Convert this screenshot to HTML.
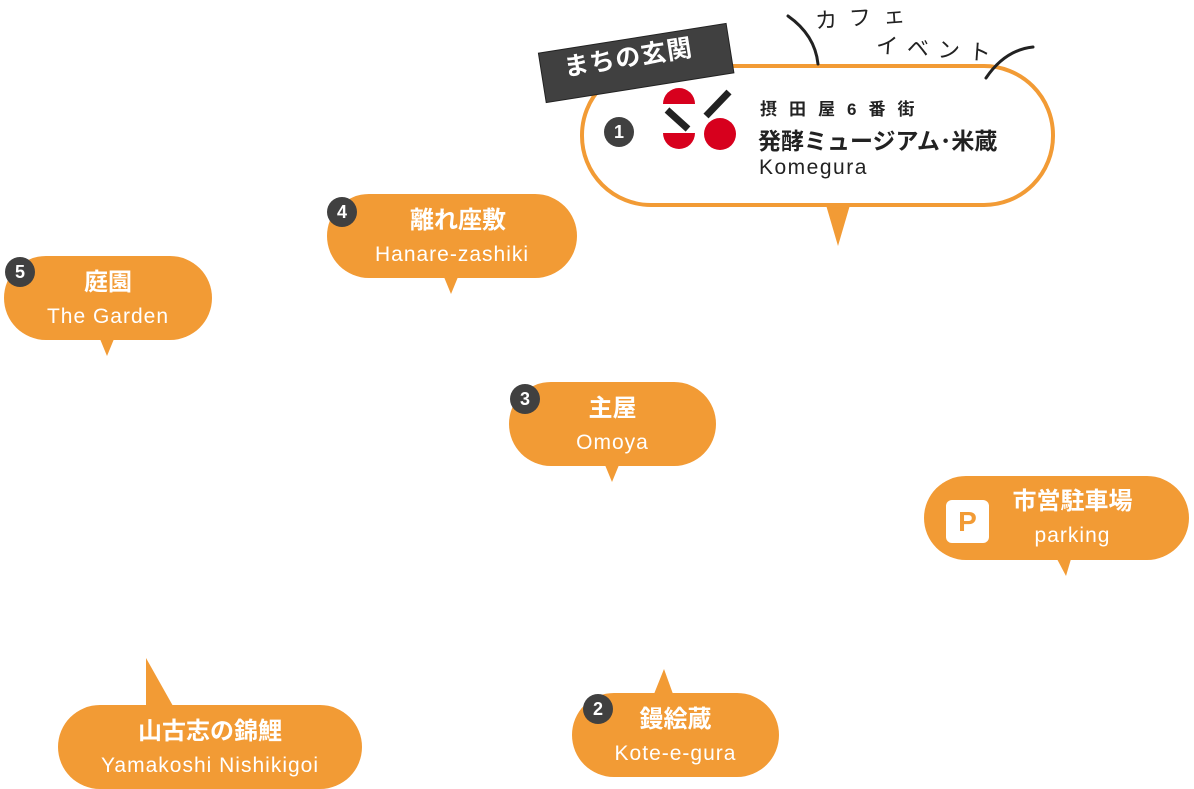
<!DOCTYPE html>
<html><head><meta charset="utf-8"><style>
body{margin:0;width:1194px;height:786px;background:#fff;position:relative;overflow:hidden;font-family:"Liberation Sans","Noto Sans CJK JP",sans-serif}
.b{position:absolute;background:#f29b35;border-radius:42px;color:#fff;text-align:center}
.b .j{font-weight:bold;font-size:24px;line-height:28px;letter-spacing:0px}
.b .e{font-size:21px;line-height:24px;letter-spacing:1px}
.n{position:absolute;width:30px;height:30px;border-radius:50%;background:#404040;color:#fff;font-weight:bold;font-size:18px;line-height:30px;text-align:center}
svg{position:absolute;left:0;top:0}
</style></head><body>
<svg width="1194" height="786">
<g fill="#f29b35">
<polygon points="100,339 114,339 107,356"/>
<polygon points="444,277 458,277 451,294"/>
<polygon points="605,465 619,465 612,482"/>
<polygon points="1057,559 1071,559 1066,576"/>
<polygon points="654,694 673,694 664,669"/>
<polygon points="146,706 173,706 146,658"/>
<polygon points="826,205 850,205 838,246"/>
</g>
<rect x="582" y="66" width="471" height="139" rx="69" fill="#fff" stroke="#f29b35" stroke-width="4"/>
<g transform="rotate(-9 636 62)"><rect x="541" y="38" width="190" height="50" fill="#404040" stroke="#222" stroke-width="1"/></g>
<g stroke="#222" stroke-width="3" fill="none" stroke-linecap="round">
<path d="M788 16 Q815 35 818 64"/>
<path d="M986 78 Q1005 50 1033 47"/>
</g>
<g fill="#d7001d">
<path d="M663 104 a16 16 0 0 1 32 0 z"/>
<path d="M663 133 h32 a16 16 0 0 1 -32 0 z"/>
<circle cx="720" cy="134" r="16"/>
</g>
<g stroke="#222" stroke-width="7"><line x1="667" y1="110" x2="688" y2="129"/><line x1="706" y1="116" x2="729" y2="92"/></g>
</svg>
<div style="position:absolute;left:563px;top:38px;color:#fff;font-size:25px;font-weight:bold;transform:rotate(-9deg);letter-spacing:1px">まちの玄関</div>
<div style="position:absolute;left:815px;top:0px;font-size:22px;letter-spacing:12px;color:#222;transform:rotate(-4deg)">カフェ</div>
<div style="position:absolute;left:876px;top:32px;font-size:22px;letter-spacing:9px;color:#222;transform:rotate(4deg)">イベント</div>
<div class="n" style="left:604px;top:117px">1</div>
<div style="position:absolute;left:760px;top:95px;font-size:17px;font-weight:bold;letter-spacing:12px;color:#222">摂田屋6番街</div>
<div style="position:absolute;left:758px;top:122px;font-size:23px;font-weight:bold;color:#222">発酵ミュージアム･米蔵</div>
<div style="position:absolute;left:759px;top:156px;font-size:21px;letter-spacing:1.5px;color:#222">Komegura</div>

<div class="b" style="left:4px;top:256px;width:208px;height:84px"><div style="padding:13px 0 0 0" class="j">庭園</div><div class="e" style="margin-top:8px">The Garden</div></div>
<div class="n" style="left:5px;top:257px">5</div>

<div class="b" style="left:327px;top:194px;width:250px;height:84px"><div style="padding:13px 0 0 12px" class="j">離れ座敷</div><div class="e" style="margin-top:8px">Hanare-zashiki</div></div>
<div class="n" style="left:327px;top:197px">4</div>

<div class="b" style="left:509px;top:382px;width:207px;height:84px"><div style="padding:13px 0 0 0" class="j">主屋</div><div class="e" style="margin-top:8px">Omoya</div></div>
<div class="n" style="left:510px;top:384px">3</div>

<div class="b" style="left:924px;top:476px;width:265px;height:84px"><div style="padding:12px 0 0 32px" class="j">市営駐車場</div><div class="e" style="margin-top:8px;padding-left:32px">parking</div>
<div style="position:absolute;left:22px;top:24px;width:43px;height:43px;background:#fff;border-radius:6px;color:#f29b35;font-weight:bold;font-size:28px;line-height:43px">P</div></div>

<div class="b" style="left:572px;top:693px;width:207px;height:84px"><div style="padding:13px 0 0 0" class="j">鏝絵蔵</div><div class="e" style="margin-top:8px">Kote-e-gura</div></div>
<div class="n" style="left:583px;top:694px">2</div>

<div class="b" style="left:58px;top:705px;width:304px;height:84px"><div style="padding:13px 0 0 0" class="j">山古志の錦鯉</div><div class="e" style="margin-top:8px">Yamakoshi Nishikigoi</div></div>
</body></html>
